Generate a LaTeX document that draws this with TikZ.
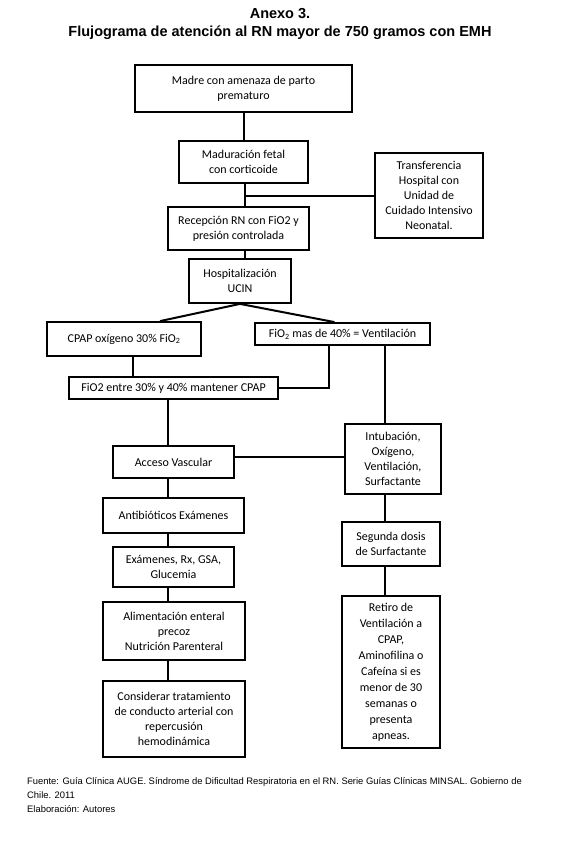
\documentclass[tikz,border=0pt]{standalone}
\usepackage{fontspec}
\setmainfont{Carlito}
\newfontfamily\arialfont{Liberation Sans}

\begin{document}
\begin{tikzpicture}[x=1pt, y=-1pt,
    caja/.style={draw, line width=1.8pt, align=center, inner sep=0pt, font=\fontsize{12}{15}\selectfont},
    enlace/.style={line width=2pt}]
    \useasboundingbox (0,0) rectangle (560,848);

    \node[font=\arialfont\bfseries\fontsize{14.5}{18}\selectfont, align=center] (titulo) at (280,24)
        {Anexo 3.\\Flujograma de atención al RN mayor de 750 gramos con EMH};

    \node[caja, minimum width=217pt, minimum height=47pt] (madre) at (243.5,88.5) {Madre con amenaza de parto\\prematuro};
    \node[caja, minimum width=129pt, minimum height=42pt] (madur) at (243.5,162) {Maduración fetal\\con corticoide};
    \node[caja, minimum width=108pt, minimum height=85pt] (transf) at (429,195.5) {Transferencia\\Hospital con\\Unidad de\\Cuidado Intensivo\\Neonatal.};
    \node[caja, minimum width=141pt, minimum height=43pt] (recep) at (238.5,228.5) {Recepción RN con FiO2 y\\presión controlada};
    \node[caja, minimum width=102pt, minimum height=44pt] (hosp) at (240,281) {Hospitalización\\UCIN};
    \node[caja, minimum width=154pt, minimum height=34pt] (cpap) at (124,339) {CPAP oxígeno 30\% FiO\textsubscript{2}};
    \node[caja, minimum width=175pt, minimum height=22pt] (fiomas) at (342.5,334) {FiO\textsubscript{2} mas de 40\% = Ventilación};
    \node[caja, minimum width=209pt, minimum height=22pt] (fioentre) at (173.5,388) {FiO2 entre 30\% y 40\% mantener CPAP};
    \node[caja, minimum width=121pt, minimum height=32pt] (acceso) at (173.5,462) {Acceso Vascular};
    \node[caja, minimum width=96pt, minimum height=70pt] (intub) at (393,459) {Intubación,\\Oxígeno,\\Ventilación,\\Surfactante};
    \node[caja, minimum width=141pt, minimum height=35pt] (antib) at (173.5,515.5) {Antibióticos Exámenes};
    \node[caja, minimum width=121pt, minimum height=40pt] (exam) at (173.5,567) {Exámenes, Rx, GSA,\\Glucemia};
    \node[caja, minimum width=98pt, minimum height=44pt] (segunda) at (391,544) {Segunda dosis\\de Surfactante};
    \node[caja, minimum width=142pt, minimum height=58pt] (alim) at (174,631) {Alimentación enteral\\precoz\\Nutrición Parenteral};
    \node[caja, minimum width=142pt, minimum height=76pt] (consid) at (174,719) {Considerar tratamiento\\de conducto arterial con\\repercusión\\hemodinámica};
    \node[caja, minimum width=98pt, minimum height=152pt, font=\fontsize{12}{16}\selectfont] (retiro) at (391,672)
        {Retiro de\\Ventilación a\\CPAP,\\Aminofilina o\\Cafeína si es\\menor de 30\\semanas o\\presenta\\apneas.};

    \coordinate (ejeM) at ([xshift=0.5pt]madre.south);
    \coordinate (ejeA) at ([xshift=1.5pt]madur.south);
    \coordinate (ejeB) at ([xshift=-5.5pt]acceso.north);
    \coordinate (ejeC) at ([xshift=-8pt]intub.north);

    \draw[enlace] (ejeM) -- (ejeM |- madur.north);
    \draw[enlace] (ejeA) -- (ejeA |- recep.north);
    \draw[enlace] (transf.west) -- (ejeA |- transf.west);
    \draw[enlace] (ejeA |- recep.south) -- (ejeA |- hosp.north);
    \draw[enlace] (hosp.south) -- ([xshift=36pt]cpap.north);
    \draw[enlace] (hosp.south) -- ([xshift=-8pt]fiomas.north);
    \draw[enlace] ([xshift=9pt]cpap.south) -- ([xshift=9pt]cpap.south |- fioentre.north);
    \draw[enlace] ([xshift=-13.5pt]fiomas.south) |- (fioentre.east);
    \draw[enlace] (ejeC |- fiomas.south) -- (ejeC);
    \draw[enlace] (ejeB |- fioentre.south) -- (ejeB);
    \draw[enlace] ([yshift=5pt]acceso.east) -- ([yshift=5pt]acceso.east -| intub.west);
    \draw[enlace] (ejeB |- acceso.south) -- (ejeB |- antib.north);
    \draw[enlace] (ejeB |- antib.south) -- (ejeB |- exam.north);
    \draw[enlace] (ejeB |- exam.south) -- (ejeB |- alim.north);
    \draw[enlace] (ejeB |- alim.south) -- (ejeB |- consid.north);
    \draw[enlace] (ejeC |- intub.south) -- (ejeC |- segunda.north);
    \draw[enlace] (ejeC |- segunda.south) -- (ejeC |- retiro.north);

    \node[font=\arialfont\fontsize{9.4}{14}\selectfont, align=left, anchor=north west, inner sep=0pt] (fuente) at (27,777)
        {Fuente: Guía Clínica AUGE. Síndrome de Dificultad Respiratoria en el RN. Serie Guías Clínicas MINSAL. Gobierno de\\Chile. 2011\\Elaboración: Autores};
\end{tikzpicture}
\end{document}
